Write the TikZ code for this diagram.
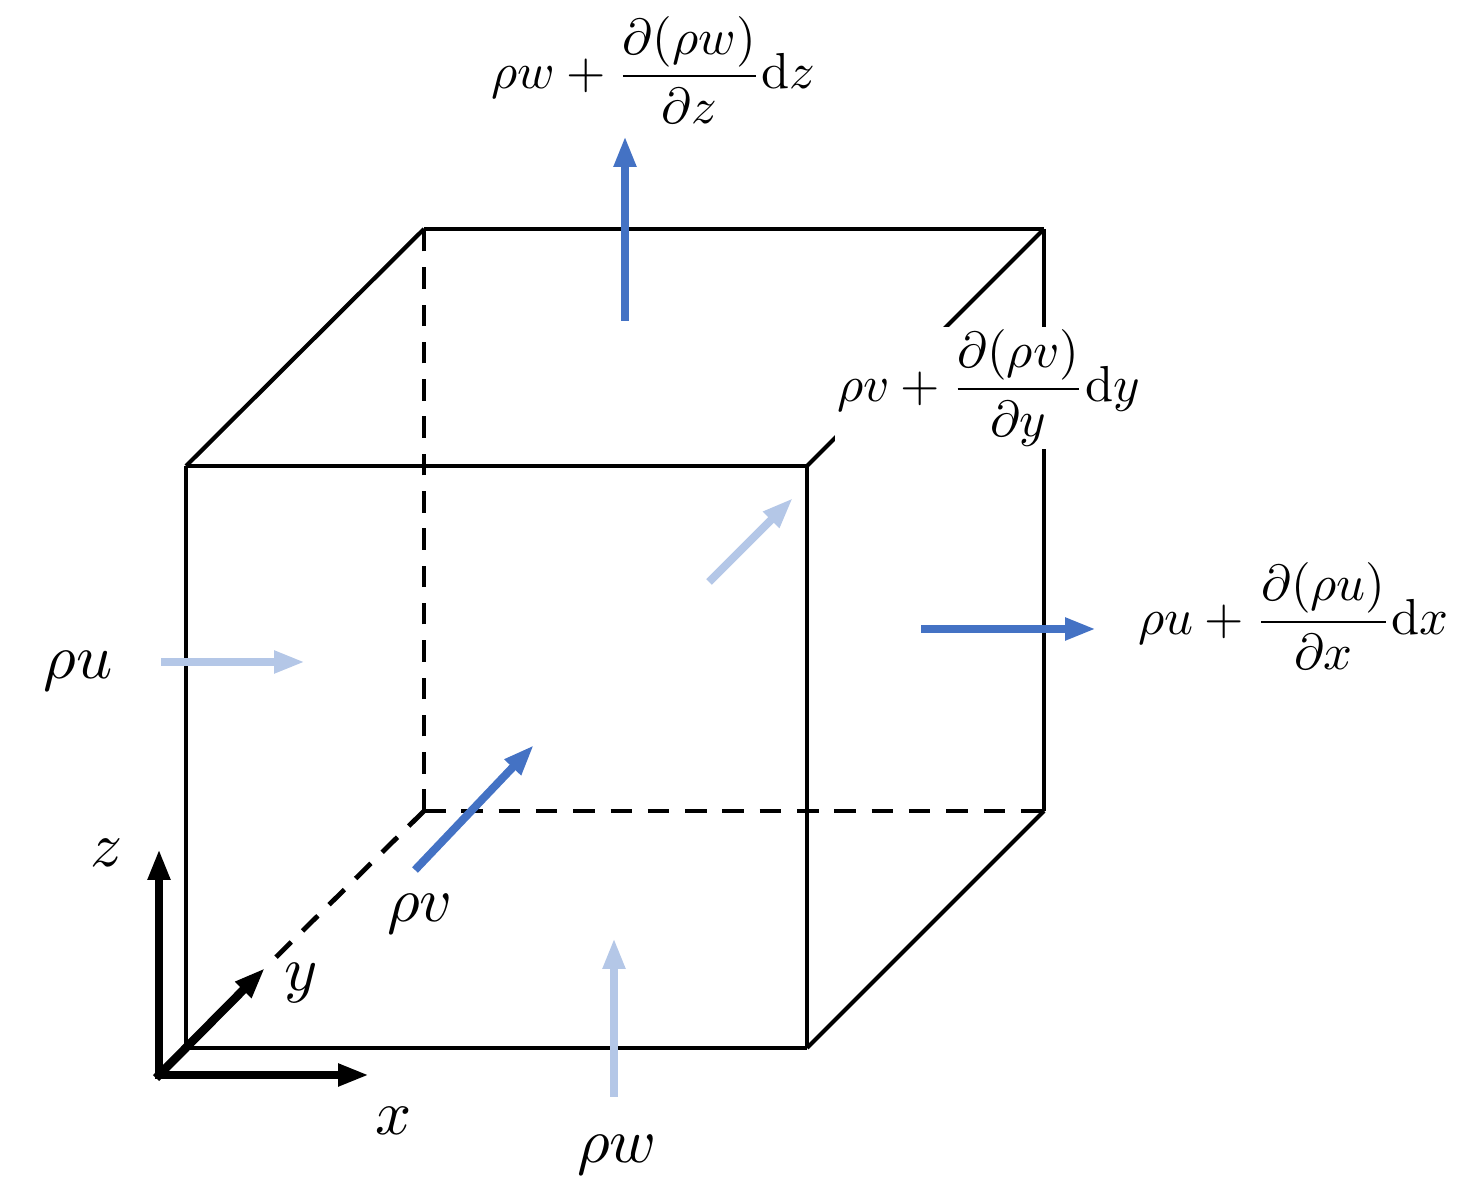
\documentclass[tikz,border=0pt]{standalone}
\usepackage{xcolor}
\usepackage{amsmath}
\usetikzlibrary{arrows.meta}
\definecolor{fluxblue}{RGB}{68,114,196}
\definecolor{fluxlight}{RGB}{180,199,231}
\tikzset{
    edge/.style={black, line width=0.042cm},
    hidden/.style={black, line width=0.048cm, dash pattern=on 0.215cm off 0.158cm},
    axis/.style={black, line width=0.085cm, line cap=rect, -{Triangle[length=0.31cm,width=0.21cm]}},
    flux/.style={fluxblue, line width=0.08cm, -{Triangle[length=0.31cm,width=0.21cm]}},
    fluxin/.style={fluxlight, line width=0.08cm, -{Triangle[length=0.31cm,width=0.21cm]}},
    biglabel/.style={inner sep=0pt, scale=1.8},
    outlabel/.style={inner sep=0.5pt, scale=1.44, fill=white}
}
\begin{document}
\begin{tikzpicture}
    \useasboundingbox (0, 0) rectangle (14.66, 11.95);

    \coordinate (A1) at (1.86, 1.47);
    \coordinate (B1) at (8.07, 1.47);
    \coordinate (C1) at (8.07, 7.29);
    \coordinate (D1) at (1.86, 7.29);
    \coordinate (A2) at (4.24, 3.84);
    \coordinate (B2) at (10.44, 3.84);
    \coordinate (C2) at (10.44, 9.66);
    \coordinate (D2) at (4.24, 9.66);

    \coordinate (O) at (1.59, 1.2);
    \coordinate (OX) at (3.69, 1.2);
    \coordinate (OY) at (2.65, 2.27);
    \coordinate (OZ) at (1.59, 3.46);

    \draw [hidden] (A2) to (D2);
    \draw [hidden] (A2) to (B2);
    \draw [hidden] (A2) to (OY);

    \draw [edge] (A1) to (B1);
    \draw [edge] (B1) to (C1);
    \draw [edge] (C1) to (D1);
    \draw [edge] (D1) to (A1);
    \draw [edge] (B1) to (B2);
    \draw [edge] (B2) to (C2);
    \draw [edge] (C2) to (D2);
    \draw [edge] (D2) to (D1);
    \draw [edge] (C1) to (C2);

    \draw [axis] (O) to (OX);
    \draw [axis] (O) to (OY);
    \draw [axis] (O) to (OZ);

    \node [biglabel] (xlabel) at (3.94, 0.74) {$x$};
    \node [biglabel] (ylabel) at (3.01, 2.12) {$y$};
    \node [biglabel] (zlabel) at (1.07, 3.42) {$z$};

    % inflow
    \coordinate (U1s) at (1.61, 5.33);
    \coordinate (U1e) at (3.05, 5.33);
    \coordinate (V1s) at (4.15, 3.25);
    \coordinate (V1e) at (5.34, 4.5);
    \coordinate (W1s) at (6.14, 0.98);
    \coordinate (W1e) at (6.14, 2.57);
    \draw [fluxin] (U1s) to (U1e);
    \draw [flux] (V1s) to (V1e);
    \draw [fluxin] (W1s) to (W1e);

    % outflow
    \coordinate (U2s) at (9.21, 5.66);
    \coordinate (U2e) at (10.96, 5.66);
    \coordinate (V2s) at (7.09, 6.13);
    \coordinate (V2e) at (7.93, 6.97);
    \coordinate (W2s) at (6.25, 8.74);
    \coordinate (W2e) at (6.25, 10.59);
    \draw [flux] (U2s) to (U2e);
    \draw [fluxin] (V2s) to (V2e);
    \draw [flux] (W2s) to (W2e);

    \node [biglabel] (rhou) at (0.78, 5.24) {$\rho u$};
    \node [biglabel] (rhov) at (4.2, 2.81) {$\rho v$};
    \node [biglabel] (rhow) at (6.17, 0.4) {$\rho w$};

    \node [outlabel] (rhouout) at (12.935, 5.79) {$\rho u+\dfrac{\partial(\rho u)}{\partial x}\mathrm{d}x$};
    \node [outlabel] (rhovout) at (9.885, 8.07) {$\rho v+\dfrac{\partial(\rho v)}{\partial y}\mathrm{d}y$};
    \node [outlabel] (rhowout) at (6.535, 11.25) {$\rho w+\dfrac{\partial(\rho w)}{\partial z}\mathrm{d}z$};
\end{tikzpicture}
\end{document}
